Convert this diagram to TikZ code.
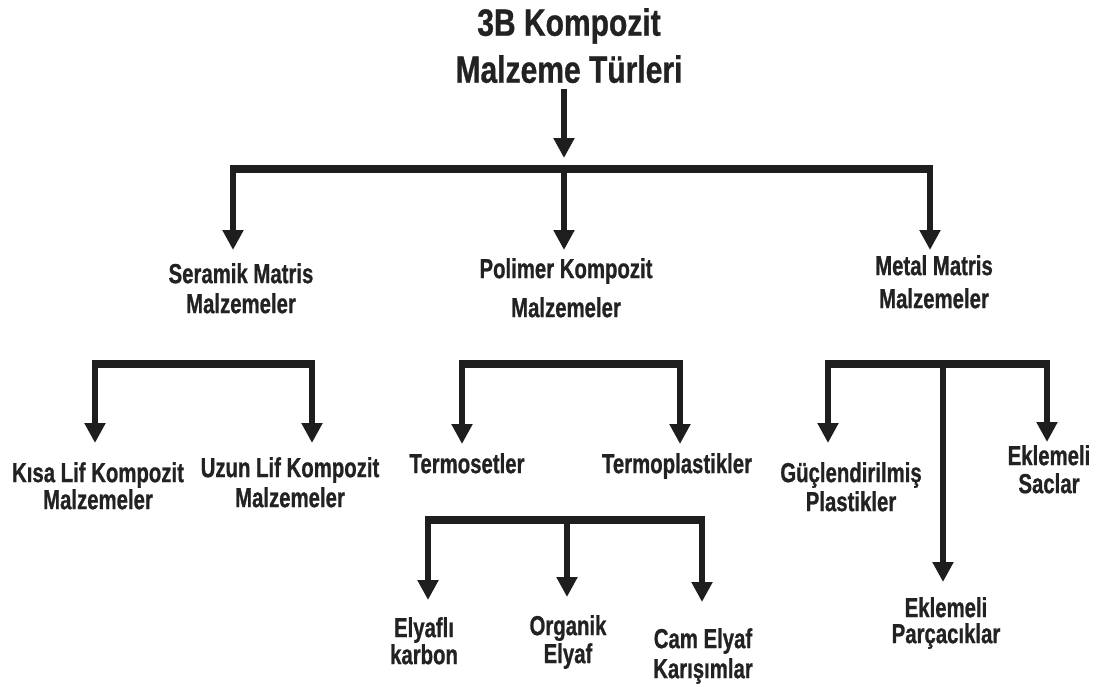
\documentclass[tikz,border=0pt]{standalone}
\usepackage{fontspec}
\newfontfamily\labfont{Liberation Sans}[FakeStretch=0.74,FakeBold=0.8]
\newfontfamily\ttlfont{Liberation Sans}[FakeStretch=0.79,FakeBold=0.8]
\usetikzlibrary{arrows.meta}
\definecolor{ink}{HTML}{1E1E1E}
\definecolor{txt}{HTML}{222222}
\begin{document}
\begin{tikzpicture}[x=1pt,y=-1pt,
  lab/.style={anchor=north, inner sep=0pt, align=center, text=txt,
    font={\labfont\bfseries\fontsize{27.5}{30}\selectfont}},
  ttl/.style={anchor=north, inner sep=0pt, align=center, text=txt,
    font={\ttlfont\bfseries\fontsize{38}{47}\selectfont}},
  arr/.style={draw=ink, line width=6pt, -{Triangle[width=20pt,length=20pt]}},
  bar/.style={draw=ink, line width=8pt, line cap=butt}]
\useasboundingbox (0,0) rectangle (1108,686);

% ---- labels ----
\node[ttl] (title) at (569,8) {3B Kompozit\\Malzeme Türleri};
\node[lab] (ser) at (241,263) {Seramik Matris\\Malzemeler};
\node[lab] (pol) at (566,258) {Polimer Kompozit\\[9pt]Malzemeler};
\node[lab] (met) at (934,255) {Metal Matris\\[3pt]Malzemeler};
\node[lab] (kisa) at (98,462) {Kısa Lif Kompozit\\[-3pt]Malzemeler};
\node[lab] (uzun) at (290,457) {Uzun Lif Kompozit\\Malzemeler};
\node[lab] (tset) at (467,453) {Termosetler};
\node[lab] (tpl) at (677,453) {Termoplastikler};
\node[lab] (elyk) at (424,617) {Elyaflı\\[-3pt]karbon};
\node[lab] (org) at (568,615) {Organik\\[-2pt]Elyaf};
\node[lab] (cam) at (703,628) {Cam Elyaf\\Karışımlar};
\node[lab] (guc) at (851,462) {Güçlendirilmiş\\[-1pt]Plastikler};
\node[lab] (eks) at (1049,445) {Eklemeli\\[-2pt]Saclar};
\node[lab] (ekp) at (946,597) {Eklemeli\\[-4pt]Parçacıklar};

% ---- junctions and tips ----
\coordinate (b1L) at (233,169); \coordinate (b1M) at (564,169); \coordinate (b1R) at (930,169);
\coordinate (t0) at (564,158);
\coordinate (ser-in) at (233,250); \coordinate (pol-in) at (564,250); \coordinate (met-in) at (930,250);

\coordinate (b2L) at (95,364); \coordinate (b2R) at (312,364);
\coordinate (kisa-in) at (95,443); \coordinate (uzun-in) at (312,443);

\coordinate (b3L) at (462,364); \coordinate (b3R) at (680,364);
\coordinate (tset-in) at (462,444); \coordinate (tpl-in) at (680,444);

\coordinate (b4L) at (828,364); \coordinate (b4M) at (943,364); \coordinate (b4R) at (1047,364);
\coordinate (guc-in) at (828,443); \coordinate (ekp-in) at (943,582); \coordinate (eks-in) at (1047,442);

\coordinate (b5L) at (428,520); \coordinate (b5M) at (567,520); \coordinate (b5R) at (702,520);
\coordinate (elyk-in) at (428,600); \coordinate (org-in) at (567,597); \coordinate (cam-in) at (702,602);

% ---- connectors ----
\draw[arr, shorten <=6pt] (title.south -| t0) -- (t0);
\draw[bar] ([xshift=-3pt]b1L) -- ([xshift=3pt]b1R);
\draw[arr] (b1L) -- (ser-in);
\draw[arr] (b1M) -- (pol-in);
\draw[arr] (b1R) -- (met-in);

\draw[bar] ([xshift=-3pt]b2L) -- ([xshift=3pt]b2R);
\draw[arr] (b2L) -- (kisa-in);
\draw[arr] (b2R) -- (uzun-in);

\draw[bar] ([xshift=-3pt]b3L) -- ([xshift=3pt]b3R);
\draw[arr] (b3L) -- (tset-in);
\draw[arr] (b3R) -- (tpl-in);

\draw[bar] ([xshift=-3pt]b4L) -- ([xshift=3pt]b4R);
\draw[arr] (b4L) -- (guc-in);
\draw[arr] (b4M) -- (ekp-in);
\draw[arr] (b4R) -- (eks-in);

\draw[bar] ([xshift=-3pt]b5L) -- ([xshift=3pt]b5R);
\draw[arr] (b5L) -- (elyk-in);
\draw[arr] (b5M) -- (org-in);
\draw[arr] (b5R) -- (cam-in);
\end{tikzpicture}
\end{document}
